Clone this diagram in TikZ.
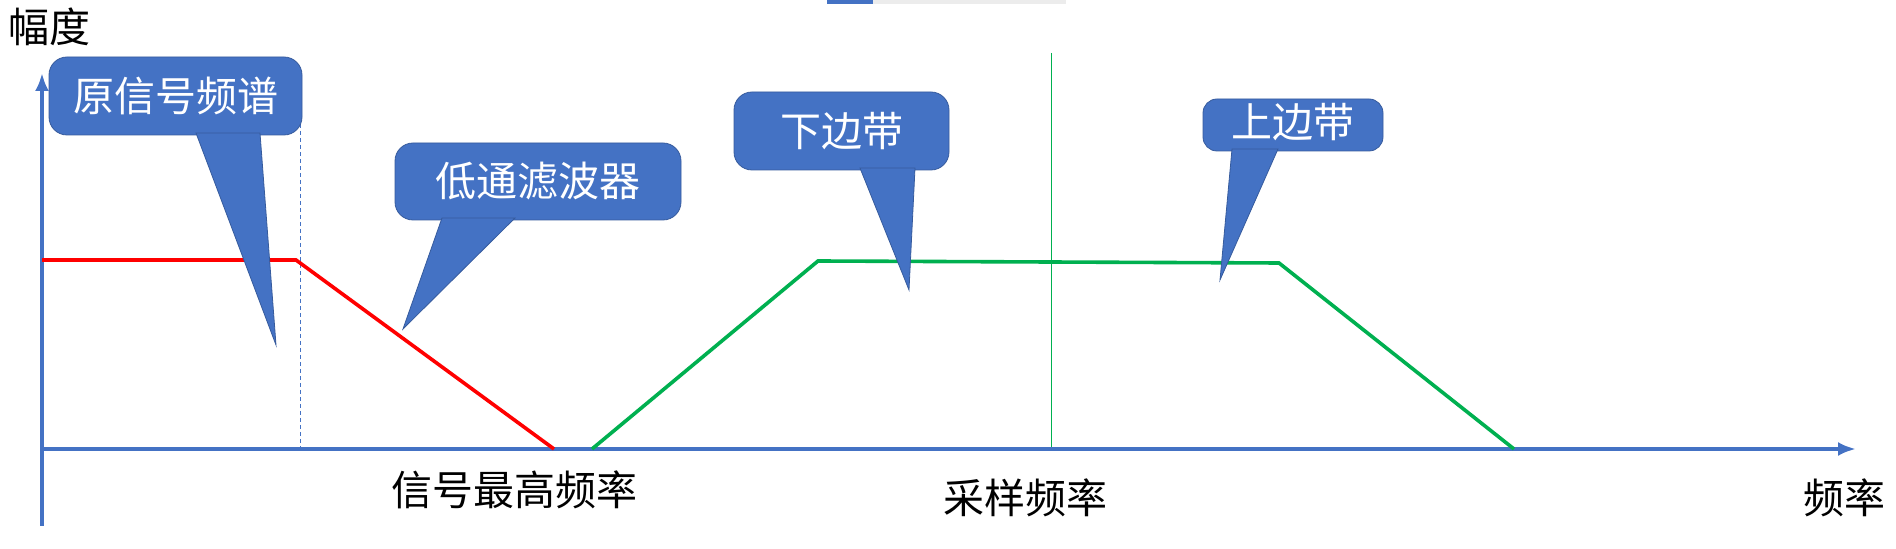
\documentclass[tikz,border=0pt]{standalone}
\usepackage{fontspec}
\newfontfamily\cjk{Noto Sans CJK SC}
\definecolor{cblue}{HTML}{4472C4}
\definecolor{cred}{HTML}{FF0000}
\definecolor{cgreen}{HTML}{00B050}
\begin{document}
\begin{tikzpicture}[x=0.5pt,y=-0.5pt,
  lbl/.style={font=\cjk\fontsize{20.5}{24}\selectfont,inner sep=0pt},
  clbl/.style={lbl,text=white},
  ax/.style={draw=cblue,line width=1.8pt,-{Latex[length=9pt,width=7pt]}},
  bub/.style={fill=cblue,draw=cblue!80!black,line width=0.4pt}]
\usetikzlibrary{arrows.meta}
\useasboundingbox (0,0) rectangle (1896,549);
\fill[cblue] (827,0) rectangle (873,4);
\fill[gray!15] (873,0) rectangle (1066,4);
% guides
\draw[cblue,dashed,line width=0.4pt,dash pattern=on 2pt off 1.5pt] (300,117) -- (300,449);
\draw[cgreen,line width=0.5pt] (1051,53) -- (1051,449);
% axes
\coordinate (o) at (42,449);
\coordinate (ytop) at (42,73);
\coordinate (ybot) at (42,526);
\coordinate (xend) at (1856,449);
\draw[ax] (ybot) -- (ytop);
\draw[ax] (o) -- (xend);
% curves
\draw[cred,line width=1.8pt] (42,260) -- (296,260) -- (554,449);
\draw[cgreen,line width=1.8pt] (592,449) -- (818,261) -- (1049,262) -- (1279,263) -- (1514,449);
% labels
\node[lbl] (amp) at (50,27) {幅度};
\node[lbl] (freq) at (1844,498) {频率};
\node[lbl] (fmax) at (514,490) {信号最高频率};
\node[lbl] (fs) at (1025,498) {采样频率};
% callouts
\fill[bub,rounded corners=9pt] (49,57) rectangle (302,135);
\fill[bub] (196,133) -- (276,345) -- (260,133) -- cycle;
\node[clbl] (c1) at (175.5,96) {原信号频谱};
\fill[bub,rounded corners=9pt] (395,143) rectangle (681,220);
\fill[bub] (442,218) -- (403,329) -- (515,218) -- cycle;
\node[clbl] (c2) at (538,181) {低通滤波器};
\fill[bub,rounded corners=9pt] (734,92) rectangle (949,170);
\fill[bub] (860,168) -- (909,290) -- (915,168) -- cycle;
\node[clbl] (c3) at (841.5,131) {下边带};
\fill[bub,rounded corners=7pt] (1203,99) rectangle (1383,151);
\fill[bub] (1232,149) -- (1220,280) -- (1278,149) -- cycle;
\node[clbl] (c4) at (1293,122) {上边带};
\end{tikzpicture}
\end{document}
